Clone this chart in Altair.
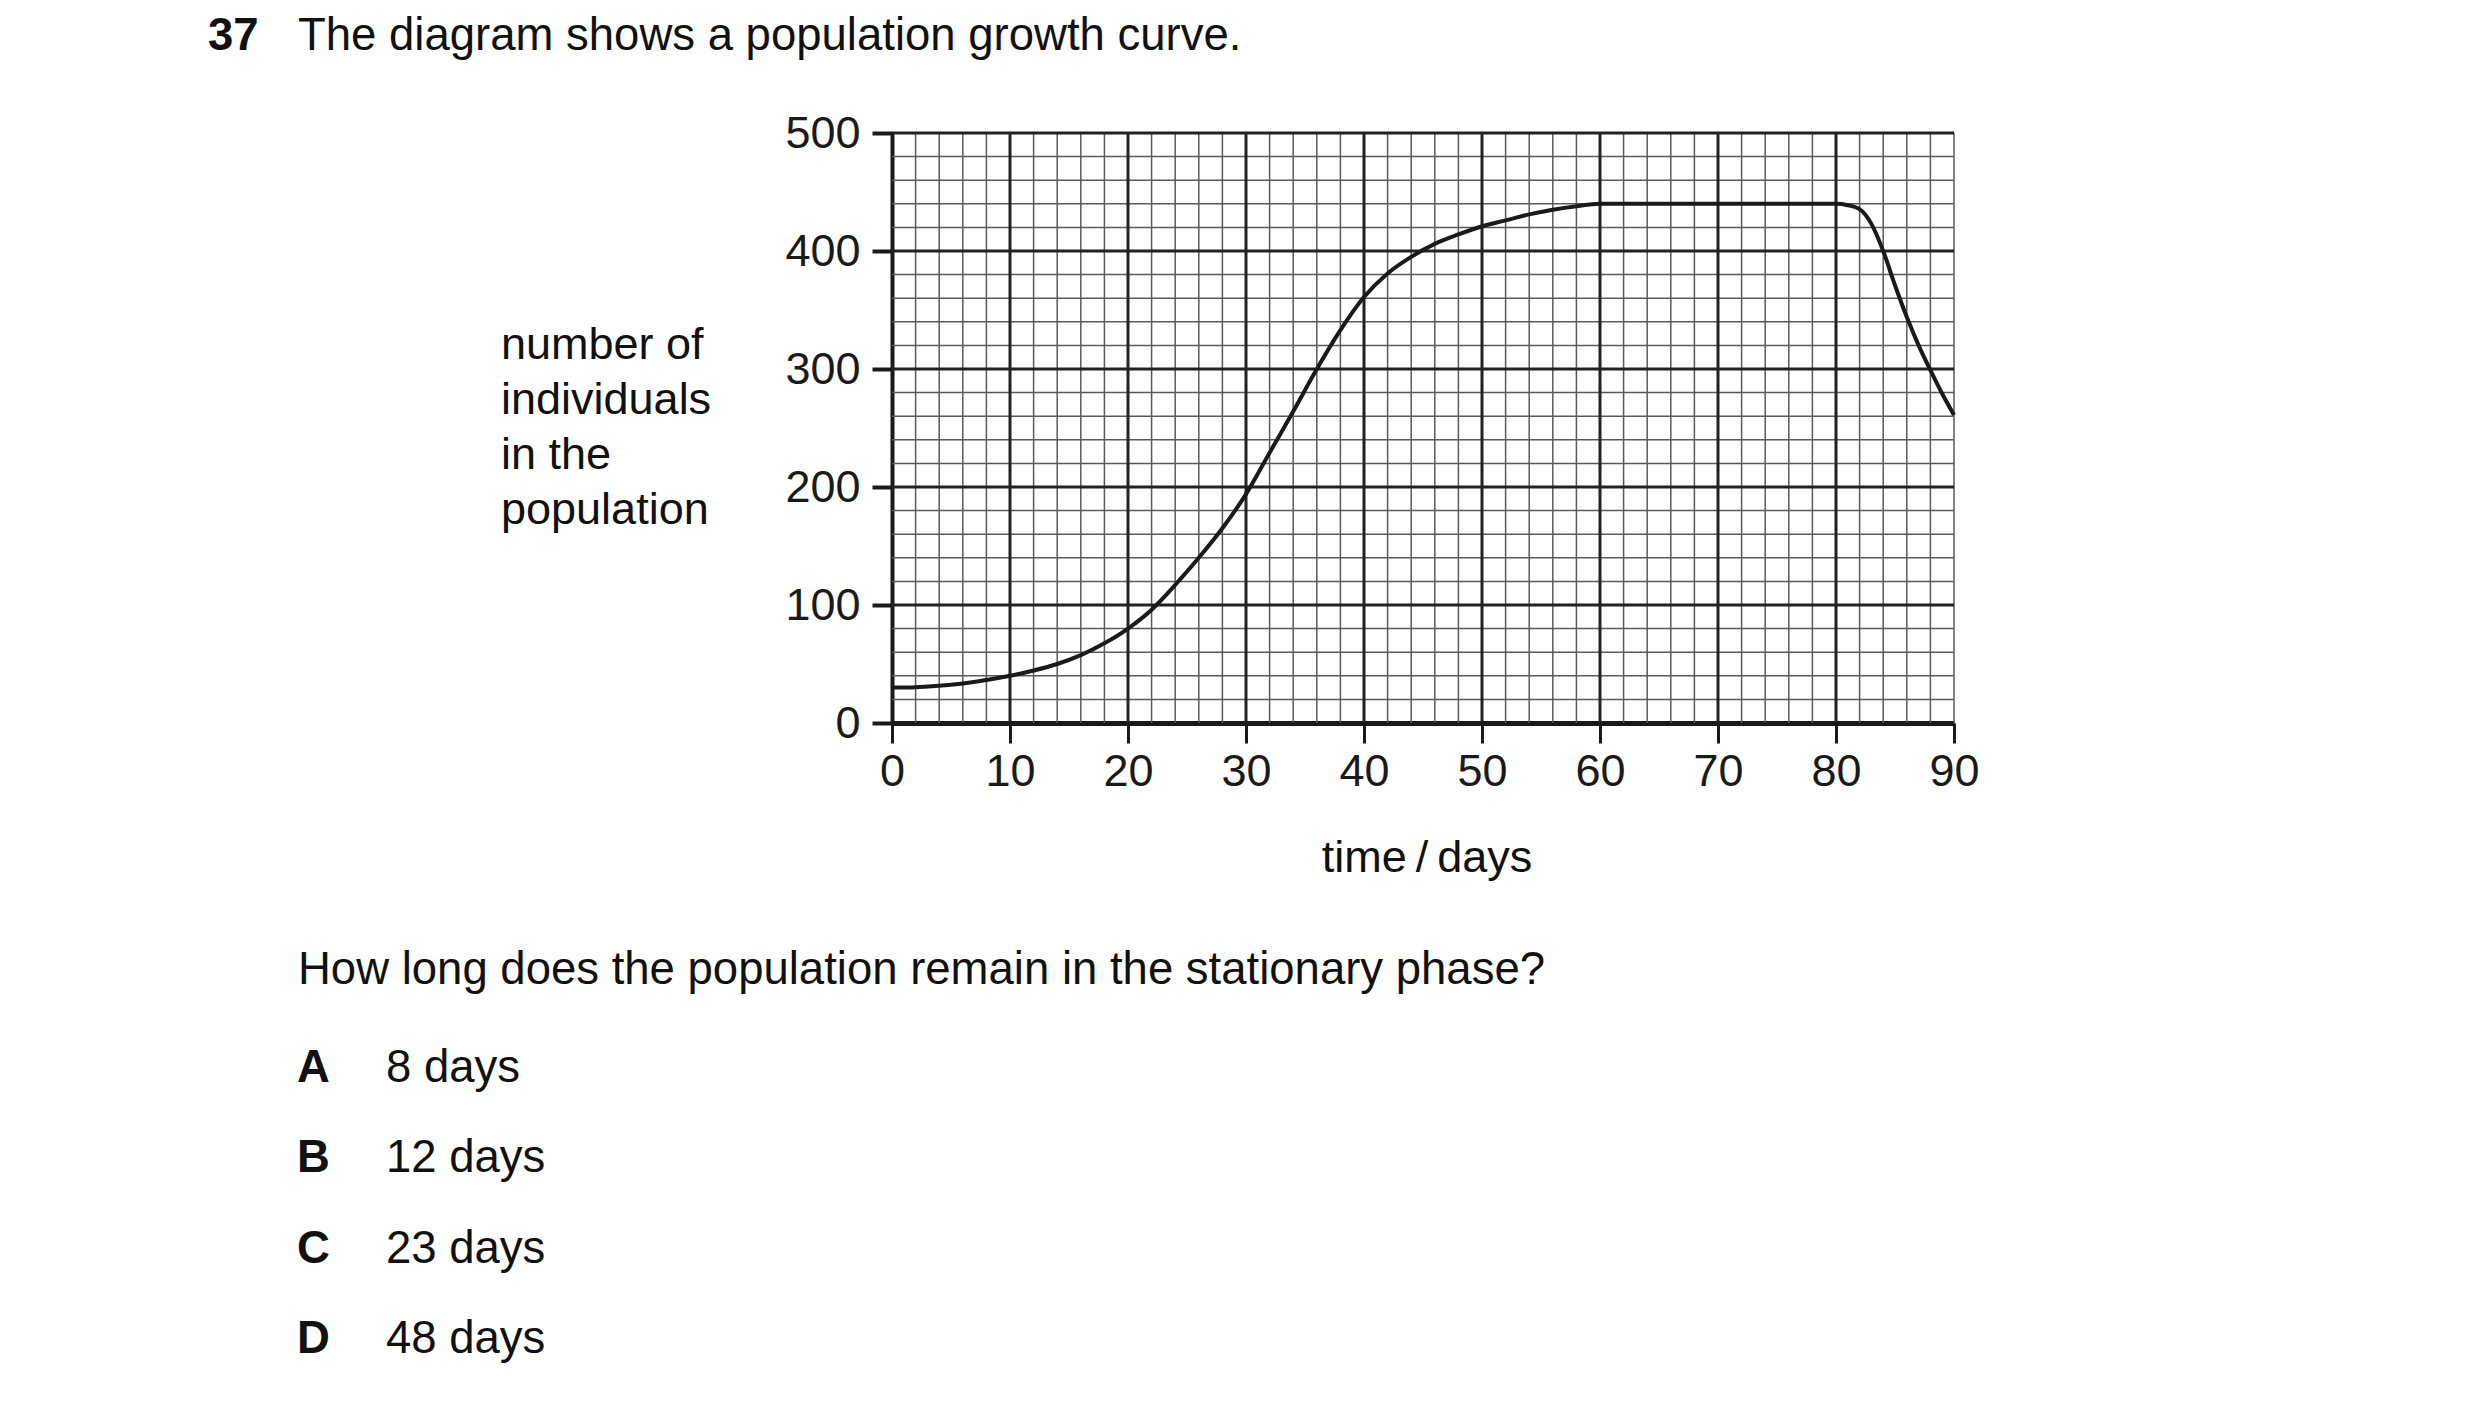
import altair as alt
import pandas as pd

# ---- data ----
days = [0, 2, 4, 6, 8, 10, 12, 14, 16, 18, 20, 22, 24, 26, 28, 30, 32, 34, 36, 38,
        40, 42, 44, 46, 48, 50, 52, 54, 56, 58, 60, 70, 80, 81, 82, 83, 84, 85, 86,
        87, 88, 89, 90]
individuals = [30, 30.4, 31.5, 33.5, 36.4, 40, 44.5, 50, 57.5, 67.5, 80, 96, 117, 140,
               165, 194, 229, 264, 300, 333, 361, 381, 395, 406, 414, 421, 426, 431,
               435, 438, 440, 440, 440, 438.8, 435.5, 423, 400, 371, 344, 320, 299, 279,
               261]

x_ticks = [0, 10, 20, 30, 40, 50, 60, 70, 80, 90]
y_ticks = [0, 100, 200, 300, 400, 500]
x_minor = [v for v in range(0, 91, 2) if v % 10 != 0] + [90]
y_minor = [v for v in range(0, 501, 20) if v % 100 != 0]
x_major = [10, 20, 30, 40, 50, 60, 70, 80]
y_major = [100, 200, 300, 400, 500]

question_no = "37"
title_text = "The diagram shows a population growth curve."
y_label = "number of\nindividuals\nin the\npopulation"
x_label = "time\u2009/\u2009days"
question = "How long does the population remain in the stationary phase?"
option_letters = ["A", "B", "C", "D"]
option_texts = ["8 days", "12 days", "23 days", "48 days"]

W, H = 1062, 590
FONT = "Liberation Sans"
INK = "#1a1a1a"

xs = alt.Scale(domain=[0, 90], nice=False, zero=False)
ys = alt.Scale(domain=[0, 500], nice=False, zero=False)

x_axis = alt.Axis(
    values=x_ticks, title=None, grid=False, labelFontSize=45, labelFont=FONT,
    labelColor=INK, labelPadding=6, tickSize=20, tickWidth=3, tickColor=INK,
    domainWidth=5, domainColor=INK, labelFlush=False, format="d")
y_axis = alt.Axis(
    values=y_ticks, title=None, grid=False, labelFontSize=45, labelFont=FONT,
    labelColor=INK, labelPadding=12, tickSize=20, tickWidth=4, tickColor=INK,
    domainWidth=4, domainColor=INK, labelFlush=False, format="d")

vminor = alt.Chart(pd.DataFrame({"x": x_minor})).mark_rule(
    color="#5a5a5a", strokeWidth=1.5
).encode(x=alt.X("x:Q", scale=xs, axis=x_axis), y=alt.value(0), y2=alt.value(H))

hminor = alt.Chart(pd.DataFrame({"y": y_minor})).mark_rule(
    color="#5a5a5a", strokeWidth=1.5
).encode(y=alt.Y("y:Q", scale=ys, axis=y_axis), x=alt.value(0), x2=alt.value(W))

vmajor = alt.Chart(pd.DataFrame({"x": x_major})).mark_rule(
    color="#222222", strokeWidth=3
).encode(x=alt.X("x:Q", scale=xs, axis=x_axis), y=alt.value(0), y2=alt.value(H))

hmajor = alt.Chart(pd.DataFrame({"y": y_major})).mark_rule(
    color="#222222", strokeWidth=3
).encode(y=alt.Y("y:Q", scale=ys, axis=y_axis), x=alt.value(0), x2=alt.value(W))

curve = alt.Chart(pd.DataFrame({"x": days, "y": individuals})).mark_line(
    color=INK, strokeWidth=4, interpolate="monotone"
).encode(
    x=alt.X("x:Q", scale=xs, axis=x_axis),
    y=alt.Y("y:Q", scale=ys, axis=y_axis),
)


def txt(text, x, y, size=45.5, bold=False, align="left", line_height=None):
    kw = dict(align=align, baseline="alphabetic", font=FONT, fontSize=size,
              color="#111111", fontWeight="bold" if bold else "normal")
    if line_height:
        kw["lineBreak"] = "\n"
        kw["lineHeight"] = line_height
    return alt.Chart(pd.DataFrame({"t": [text]})).mark_text(**kw).encode(
        x=alt.value(x), y=alt.value(y), text="t:N")


# layout offsets relative to plot origin (page x=892, y=133)
texts = [
    txt(question_no, -684, -83, bold=True),
    txt(title_text, -594, -83),
    txt(y_label, -391, 226, size=45, line_height=55),
    txt(x_label, W / 2 + 4, 739, size=45, align="center"),
    txt(question, -594, 851),
]
opt_y = [949, 1039, 1130, 1220]
for letter, label, yy in zip(option_letters, option_texts, opt_y):
    texts.append(txt(letter, -595, yy, bold=True))
    texts.append(txt(label, -506, yy))

chart = alt.layer(vminor, hminor, vmajor, hmajor, curve, *texts).properties(
    width=W, height=H,
    padding={"left": 884, "top": 125, "right": 400, "bottom": 660},
    autosize=alt.AutoSizeParams(type="none"),
    background="white",
).configure_view(stroke=None)

chart.save("out.html", embed_options={"renderer": "svg", "actions": False})
